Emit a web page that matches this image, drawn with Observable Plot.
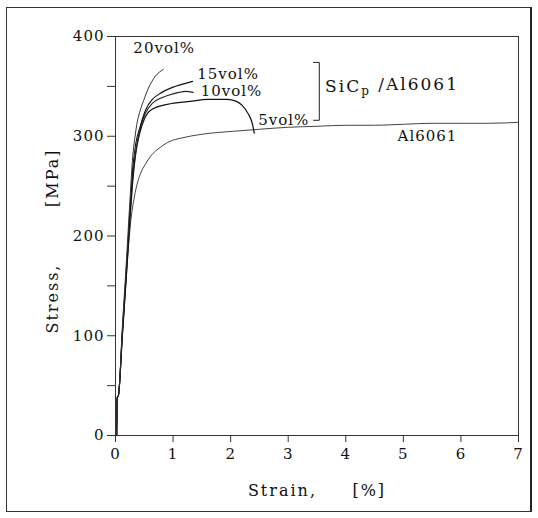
<!DOCTYPE html>
<html>
<head>
<meta charset="utf-8">
<script src="https://cdn.jsdelivr.net/npm/d3@7"></script>
<script src="https://cdn.jsdelivr.net/npm/@observablehq/plot@0.6"></script>
<style>
  html, body { margin: 0; padding: 0; background: #fff; }
  #wrap { position: relative; width: 538px; height: 518px; }
  #outer { position: absolute; left: 6px; top: 7px; width: 523px; height: 503px; border: 1.5px solid #333; border-right: 2.5px solid #222; pointer-events: none; }
  svg text { letter-spacing: 1px; }
  svg text.title { letter-spacing: 2px; }
</style>
</head>
<body>
<div id="wrap"><div id="outer"></div></div>
<script>
// Stress-strain curves (strain in %, stress in MPa)
const strain20 = [0.02,0.03,0.05,0.12,0.19,0.25,0.30,0.34,0.38,0.43,0.49,0.57,0.69,0.83];
const stress20 = [0,38,40,110,175,235,280,300,315,326,336,348,360,367];

const strain15 = [0.02,0.03,0.05,0.12,0.19,0.25,0.30,0.35,0.43,0.52,0.64,0.75,0.99,1.15,1.34];
const stress15 = [0,38,40,105,168,225,268,292,310,326,337,342,349,352,355];

const strain10 = [0.02,0.03,0.05,0.12,0.19,0.25,0.30,0.36,0.44,0.52,0.64,0.92,1.10,1.22,1.35];
const stress10 = [0,38,40,103,165,220,260,288,310,323,333,341,344,345,344];

const strain5 = [0.02,0.03,0.05,0.12,0.19,0.25,0.30,0.35,0.42,0.50,0.61,0.90,1.30,1.60,1.94,2.10,2.20,2.31,2.38,2.41];
const stress5 = [0,38,40,101,162,215,255,282,303,317,326,332,335,337,337,335,331,322,312,303];

const strainAl = [0.02,0.03,0.05,0.12,0.19,0.22,0.26,0.33,0.43,0.52,0.61,0.78,0.95,1.13,1.5,2.05,2.5,3.0,3.5,4.0,4.5,5.0,5.5,6.0,6.5,7.0];
const stressAl = [0,38,40,100,160,185,212,240,262,272,280,289,295,298,302,305,307,309,310,311,311,312,313,313,313,314];

// Annotations
const labelText = ["20vol%", "15vol%", "10vol%", "5vol%", "Al6061"];
const labelX = [0.31, 1.42, 1.48, 2.48, 4.9];
const labelY = [388, 362, 345, 316, 300];
const groupText = "SiCp /Al6061";
const groupX = 3.64;
const groupY = 350;

const bracketX = [3.44, 3.54, 3.54, 3.44];
const bracketY = [374, 374, 316, 316];

// Axis ticks
const xTicks = [0,1,2,3,4,5,6,7];
const yTicks = [0,100,200,300,400];
const yMinorTicks = [50,150,250,350];
const xTitle = "Strain,\u00a0\u00a0\u00a0\u00a0\u00a0[%]";
const yTitle = "Stress,\u00a0\u00a0\u00a0\u00a0\u00a0\u00a0\u00a0\u00a0[MPa]";

const zip = (xs, ys) => xs.map((x, i) => ({x, y: ys[i]}));
const series = [
  {data: zip(strainAl, stressAl), stroke: "#444", w: 1},
  {data: zip(strain5, stress5), stroke: "#111", w: 1.2},
  {data: zip(strain10, stress10), stroke: "#222", w: 1.1},
  {data: zip(strain15, stress15), stroke: "#111", w: 1.1},
  {data: zip(strain20, stress20), stroke: "#333", w: 1}
];
const labels = labelText.map((t, i) => ({t, x: labelX[i], y: labelY[i]}));

const chart = Plot.plot({
  width: 538,
  height: 518,
  marginLeft: 115,
  marginRight: 20,
  marginTop: 36,
  marginBottom: 83,
  style: {fontFamily: "DejaVu Serif", fontSize: "15px", color: "#111", background: "transparent"},
  x: {domain: [0, 7], label: null},
  y: {domain: [0, 400], label: null},
  marks: [
    Plot.frame({stroke: "#333", strokeWidth: 1}),
    Plot.axisX({ticks: xTicks, tickSize: 7, tickPadding: 6, tickFormat: d3.format("d"), stroke: "#333"}),
    Plot.axisY({ticks: yTicks, tickSize: 8, tickPadding: 3, tickFormat: d3.format("d"), stroke: "#333"}),
    Plot.axisY({ticks: yMinorTicks, tickSize: 8, tickFormat: () => "", stroke: "#333"}),
    ...series.map(s => Plot.line(s.data, {x: "x", y: "y", stroke: s.stroke, strokeWidth: s.w, curve: "monotone-x"})),
    Plot.line(zip(bracketX, bracketY), {x: "x", y: "y", stroke: "#222", strokeWidth: 1}),
    Plot.text(labels, {x: "x", y: "y", text: "t", textAnchor: "start", lineAnchor: "middle", fontSize: 15, fill: "#111"}),
    Plot.text([groupText], {x: () => groupX, y: () => groupY, textAnchor: "start", lineAnchor: "middle", fontSize: 17, fill: "#111", className: "group-label"}),
    Plot.text([xTitle], {frameAnchor: "bottom", dy: 60, fontSize: 16, fill: "#111", className: "title"}),
    Plot.text([yTitle], {frameAnchor: "left", textAnchor: "middle", dx: -63, dy: 5, rotate: -90, fontSize: 16, fill: "#111", className: "title"})
  ]
});

// class names go on the group; propagate letter-spacing to its text
d3.select(chart).selectAll("g.title text").style("letter-spacing", "2px");
d3.select(chart).selectAll("g.group-label text").style("letter-spacing", "2px");

// subscript p in SiCp
d3.select(chart).selectAll("text").each(function() {
  const el = d3.select(this);
  if (el.text() === groupText) {
    el.text("");
    el.append("tspan").text("SiC");
    el.append("tspan").attr("font-size", 12).attr("dy", "0.3em").text("p");
    el.append("tspan").attr("dy", "-0.3em").text(" /Al6061");
  }
});

document.getElementById("wrap").prepend(chart);
</script>
</body>
</html>
